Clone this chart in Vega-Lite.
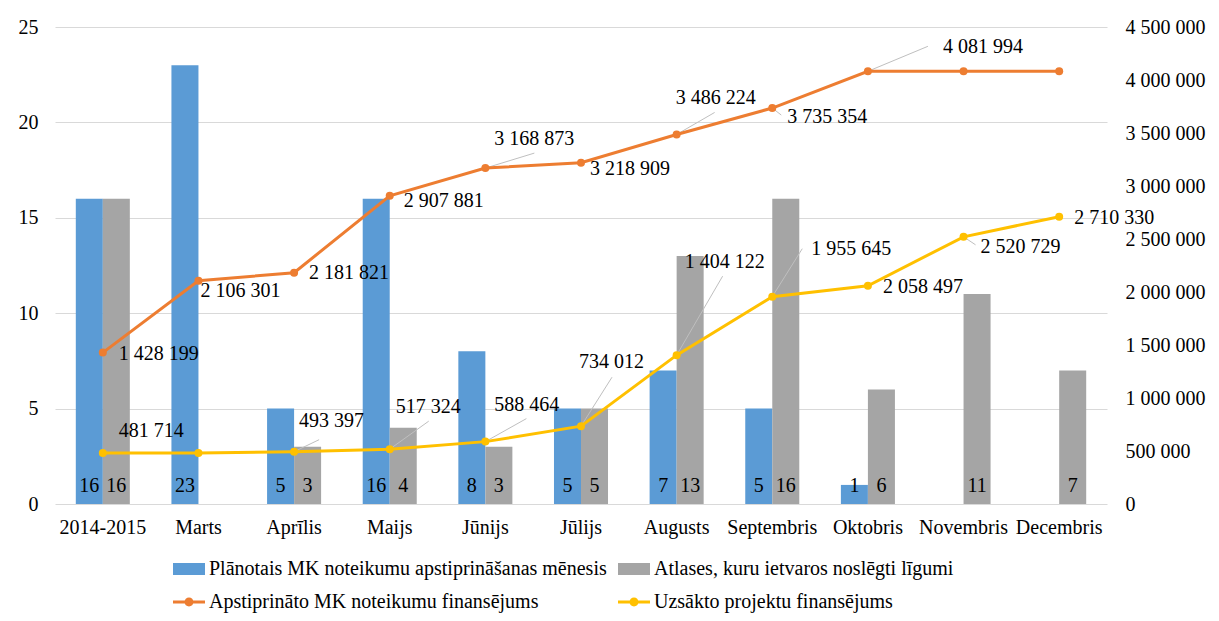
{
  "$schema": "https://vega.github.io/schema/vega-lite/v6.json",
  "width": 1052,
  "height": 477,
  "autosize": {"type": "none"},
  "padding": {"left": 55, "top": 27, "right": 112, "bottom": 117},
  "background": "white",
  "config": {
    "locale": {"number": {"decimal": ",", "thousands": " ", "grouping": [3], "currency": ["", ""]}},
    "font": "Liberation Serif",
    "view": {"stroke": null},
    "axis": {"labelFont": "Liberation Serif", "labelFontSize": 20, "labelColor": "#000000", "ticks": false, "tickSize": 0, "domain": false, "title": null, "gridColor": "#D9D9D9", "gridWidth": 1},
    "text": {"font": "Liberation Serif", "fontSize": 20, "color": "#000000"}
  },
  "datasets": {
    "bars": [
      {"cat": "2014-2015", "series": "Plānotais MK noteikumu apstiprināšanas mēnesis", "value": 16},
      {"cat": "2014-2015", "series": "Atlases, kuru ietvaros noslēgti līgumi", "value": 16},
      {"cat": "Marts", "series": "Plānotais MK noteikumu apstiprināšanas mēnesis", "value": 23},
      {"cat": "Aprīlis", "series": "Plānotais MK noteikumu apstiprināšanas mēnesis", "value": 5},
      {"cat": "Aprīlis", "series": "Atlases, kuru ietvaros noslēgti līgumi", "value": 3},
      {"cat": "Maijs", "series": "Plānotais MK noteikumu apstiprināšanas mēnesis", "value": 16},
      {"cat": "Maijs", "series": "Atlases, kuru ietvaros noslēgti līgumi", "value": 4},
      {"cat": "Jūnijs", "series": "Plānotais MK noteikumu apstiprināšanas mēnesis", "value": 8},
      {"cat": "Jūnijs", "series": "Atlases, kuru ietvaros noslēgti līgumi", "value": 3},
      {"cat": "Jūlijs", "series": "Plānotais MK noteikumu apstiprināšanas mēnesis", "value": 5},
      {"cat": "Jūlijs", "series": "Atlases, kuru ietvaros noslēgti līgumi", "value": 5},
      {"cat": "Augusts", "series": "Plānotais MK noteikumu apstiprināšanas mēnesis", "value": 7},
      {"cat": "Augusts", "series": "Atlases, kuru ietvaros noslēgti līgumi", "value": 13},
      {"cat": "Septembris", "series": "Plānotais MK noteikumu apstiprināšanas mēnesis", "value": 5},
      {"cat": "Septembris", "series": "Atlases, kuru ietvaros noslēgti līgumi", "value": 16},
      {"cat": "Oktobris", "series": "Plānotais MK noteikumu apstiprināšanas mēnesis", "value": 1},
      {"cat": "Oktobris", "series": "Atlases, kuru ietvaros noslēgti līgumi", "value": 6},
      {"cat": "Novembris", "series": "Atlases, kuru ietvaros noslēgti līgumi", "value": 11},
      {"cat": "Decembris", "series": "Atlases, kuru ietvaros noslēgti līgumi", "value": 7}
    ],
    "lines": [
      {"cat": "2014-2015", "series": "Apstiprināto MK noteikumu finansējums", "value": 1428199},
      {"cat": "Marts", "series": "Apstiprināto MK noteikumu finansējums", "value": 2106301},
      {"cat": "Aprīlis", "series": "Apstiprināto MK noteikumu finansējums", "value": 2181821},
      {"cat": "Maijs", "series": "Apstiprināto MK noteikumu finansējums", "value": 2907881},
      {"cat": "Jūnijs", "series": "Apstiprināto MK noteikumu finansējums", "value": 3168873},
      {"cat": "Jūlijs", "series": "Apstiprināto MK noteikumu finansējums", "value": 3218909},
      {"cat": "Augusts", "series": "Apstiprināto MK noteikumu finansējums", "value": 3486224},
      {"cat": "Septembris", "series": "Apstiprināto MK noteikumu finansējums", "value": 3735354},
      {"cat": "Oktobris", "series": "Apstiprināto MK noteikumu finansējums", "value": 4081994},
      {"cat": "Novembris", "series": "Apstiprināto MK noteikumu finansējums", "value": 4081994},
      {"cat": "Decembris", "series": "Apstiprināto MK noteikumu finansējums", "value": 4081994},
      {"cat": "2014-2015", "series": "Uzsākto projektu finansējums", "value": 481714},
      {"cat": "Marts", "series": "Uzsākto projektu finansējums", "value": 481714},
      {"cat": "Aprīlis", "series": "Uzsākto projektu finansējums", "value": 493397},
      {"cat": "Maijs", "series": "Uzsākto projektu finansējums", "value": 517324},
      {"cat": "Jūnijs", "series": "Uzsākto projektu finansējums", "value": 588464},
      {"cat": "Jūlijs", "series": "Uzsākto projektu finansējums", "value": 734012},
      {"cat": "Augusts", "series": "Uzsākto projektu finansējums", "value": 1404122},
      {"cat": "Septembris", "series": "Uzsākto projektu finansējums", "value": 1955645},
      {"cat": "Oktobris", "series": "Uzsākto projektu finansējums", "value": 2058497},
      {"cat": "Novembris", "series": "Uzsākto projektu finansējums", "value": 2520729},
      {"cat": "Decembris", "series": "Uzsākto projektu finansējums", "value": 2710330}
    ]
  },
  "layer": [
    {
      "data": {"name": "bars"},
      "layer": [
        {
          "mark": {"type": "bar"},
          "encoding": {
            "x": {"field": "cat", "type": "nominal", "sort": ["2014-2015", "Marts", "Aprīlis", "Maijs", "Jūnijs", "Jūlijs", "Augusts", "Septembris", "Oktobris", "Novembris", "Decembris"], "scale": {"paddingInner": 0.435, "paddingOuter": 0.2175}, "axis": {"labelAngle": 0, "labelPadding": 13, "grid": false, "labelFont": "Liberation Serif", "labelFontSize": 20}},
            "xOffset": {"field": "series", "type": "nominal", "sort": ["Plānotais MK noteikumu apstiprināšanas mēnesis", "Atlases, kuru ietvaros noslēgti līgumi"], "scale": {"paddingInner": 0, "paddingOuter": 0}},
            "y": {"field": "value", "type": "quantitative", "scale": {"domain": [0, 25], "nice": false}, "axis": {"orient": "left", "values": [0, 5, 10, 15, 20, 25], "labelPadding": 17, "grid": true, "labelFont": "Liberation Serif", "labelFontSize": 20}},
            "color": {
              "field": "series", "type": "nominal",
              "scale": {"domain": ["Plānotais MK noteikumu apstiprināšanas mēnesis", "Atlases, kuru ietvaros noslēgti līgumi", "Apstiprināto MK noteikumu finansējums", "Uzsākto projektu finansējums"], "range": ["#5B9BD5", "#A5A5A5", "#ED7D31", "#FFC000"]},
              "legend": {
                "orient": "none", "legendX": 118, "legendY": 526, "direction": "horizontal", "columns": 2, "title": null,
                "labelFont": "Liberation Serif", "labelFontSize": 20, "labelColor": "#000000", "labelLimit": 700,
                "symbolSize": 1024, "labelOffset": 4, "rowPadding": 7, "columnPadding": 11, "padding": 0,
                "encode": {"symbols": {"update": {
                  "shape": {"signal": "indexof(datum.value, 'finans') >= 0 ? 'M-1,-0.094L1,-0.094L1,0.094L-1,0.094Z M0.28,0A0.28,0.28 0 1,1 -0.28,0A0.28,0.28 0 1,1 0.28,0Z' : 'M-1,-0.375L1,-0.375L1,0.375L-1,0.375Z'"},
                  "fill": {"signal": "scale('color', datum.value)"},
                  "stroke": {"value": "transparent"},
                  "strokeWidth": {"value": 0},
                  "opacity": {"value": 1}
                }}}
              }
            }
          }
        },
        {
          "mark": {"type": "text", "baseline": "alphabetic", "align": "center", "dy": -12, "fontSize": 20, "font": "Liberation Serif", "color": "#000000"},
          "encoding": {
            "x": {"field": "cat", "type": "nominal", "sort": ["2014-2015", "Marts", "Aprīlis", "Maijs", "Jūnijs", "Jūlijs", "Augusts", "Septembris", "Oktobris", "Novembris", "Decembris"]},
            "xOffset": {"field": "series", "type": "nominal", "sort": ["Plānotais MK noteikumu apstiprināšanas mēnesis", "Atlases, kuru ietvaros noslēgti līgumi"]},
            "y": {"datum": 0, "type": "quantitative"},
            "text": {"field": "value", "type": "quantitative"}
          }
        }
      ]
    },
    {
      "data": {"name": "lines"},
      "layer": [
        {
          "transform": [{"filter": "datum.series == 'Apstiprināto MK noteikumu finansējums' && indexof(['Jūnijs','Augusts','Septembris','Oktobris'], datum.cat) >= 0"}],
          "mark": {"type": "rule", "color": "#BFBFBF", "strokeWidth": 1,
            "x2Offset": {"expr": "({'Jūnijs':49,'Augusts':38,'Septembris':9,'Oktobris':60})[datum.cat]"},
            "y2Offset": {"expr": "({'Jūnijs':-15,'Augusts':-22,'Septembris':7,'Oktobris':-25})[datum.cat]"}},
          "encoding": {
            "x": {"field": "cat", "type": "nominal", "sort": ["2014-2015", "Marts", "Aprīlis", "Maijs", "Jūnijs", "Jūlijs", "Augusts", "Septembris", "Oktobris", "Novembris", "Decembris"]},
            "x2": {"field": "cat"},
            "y": {"field": "value", "type": "quantitative"},
            "y2": {"field": "value"}
          }
        },
        {
          "transform": [{"filter": "datum.series == 'Uzsākto projektu finansējums' && indexof(['Aprīlis','Maijs','Jūnijs','Jūlijs','Augusts','Septembris','Novembris'], datum.cat) >= 0"}],
          "mark": {"type": "rule", "color": "#BFBFBF", "strokeWidth": 1,
            "x2Offset": {"expr": "({'Aprīlis':25,'Maijs':39,'Jūnijs':41,'Jūlijs':31,'Augusts':46,'Septembris':30,'Novembris':12})[datum.cat]"},
            "y2Offset": {"expr": "({'Aprīlis':-12,'Maijs':-28,'Jūnijs':-23,'Jūlijs':-49,'Augusts':-79,'Septembris':-48,'Novembris':8})[datum.cat]"}},
          "encoding": {
            "x": {"field": "cat", "type": "nominal", "sort": ["2014-2015", "Marts", "Aprīlis", "Maijs", "Jūnijs", "Jūlijs", "Augusts", "Septembris", "Oktobris", "Novembris", "Decembris"]},
            "x2": {"field": "cat"},
            "y": {"field": "value", "type": "quantitative"},
            "y2": {"field": "value"}
          }
        },
        {
          "mark": {"type": "line", "strokeWidth": 3, "point": {"filled": true, "size": 64}},
          "encoding": {
            "x": {"field": "cat", "type": "nominal", "sort": ["2014-2015", "Marts", "Aprīlis", "Maijs", "Jūnijs", "Jūlijs", "Augusts", "Septembris", "Oktobris", "Novembris", "Decembris"]},
            "y": {"field": "value", "type": "quantitative", "scale": {"domain": [0, 4500000], "nice": false}, "axis": {"orient": "right", "values": [0, 500000, 1000000, 1500000, 2000000, 2500000, 3000000, 3500000, 4000000, 4500000], "format": ",d", "labelPadding": 18, "labelAlign": "left", "grid": false, "labelFont": "Liberation Serif", "labelFontSize": 20}},
            "color": {"field": "series", "type": "nominal"}
          }
        },
        {
          "transform": [{"filter": "datum.series == 'Apstiprināto MK noteikumu finansējums' && datum.cat != 'Novembris' && datum.cat != 'Decembris'"}],
          "mark": {"type": "text", "align": "left", "baseline": "middle", "fontSize": 20, "font": "Liberation Serif", "color": "#000000",
            "dx": {"expr": "({'2014-2015':16,'Marts':2,'Aprīlis':15,'Maijs':14,'Jūnijs':9,'Jūlijs':9,'Augusts':-1,'Septembris':15,'Oktobris':75})[datum.cat]"},
            "dy": {"expr": "({'2014-2015':1,'Marts':10,'Aprīlis':0,'Maijs':5,'Jūnijs':-29,'Jūlijs':6,'Augusts':-36,'Septembris':9,'Oktobris':-24})[datum.cat]"}},
          "encoding": {
            "x": {"field": "cat", "type": "nominal", "sort": ["2014-2015", "Marts", "Aprīlis", "Maijs", "Jūnijs", "Jūlijs", "Augusts", "Septembris", "Oktobris", "Novembris", "Decembris"]},
            "y": {"field": "value", "type": "quantitative"},
            "text": {"field": "value", "type": "quantitative", "format": ",d"}
          }
        },
        {
          "transform": [{"filter": "datum.series == 'Uzsākto projektu finansējums' && datum.cat != 'Marts'"}],
          "mark": {"type": "text", "align": "left", "baseline": "middle", "fontSize": 20, "font": "Liberation Serif", "color": "#000000",
            "dx": {"expr": "({'2014-2015':16,'Aprīlis':5,'Maijs':6,'Jūnijs':9,'Jūlijs':-2,'Augusts':8,'Septembris':39,'Oktobris':15,'Novembris':17,'Decembris':15})[datum.cat]"},
            "dy": {"expr": "({'2014-2015':-22,'Aprīlis':-31,'Maijs':-42,'Jūnijs':-37,'Jūlijs':-64,'Augusts':-93,'Septembris':-48,'Oktobris':1,'Novembris':10,'Decembris':1})[datum.cat]"}},
          "encoding": {
            "x": {"field": "cat", "type": "nominal", "sort": ["2014-2015", "Marts", "Aprīlis", "Maijs", "Jūnijs", "Jūlijs", "Augusts", "Septembris", "Oktobris", "Novembris", "Decembris"]},
            "y": {"field": "value", "type": "quantitative"},
            "text": {"field": "value", "type": "quantitative", "format": ",d"}
          }
        }
      ]
    }
  ],
  "resolve": {"scale": {"y": "independent"}}
}
